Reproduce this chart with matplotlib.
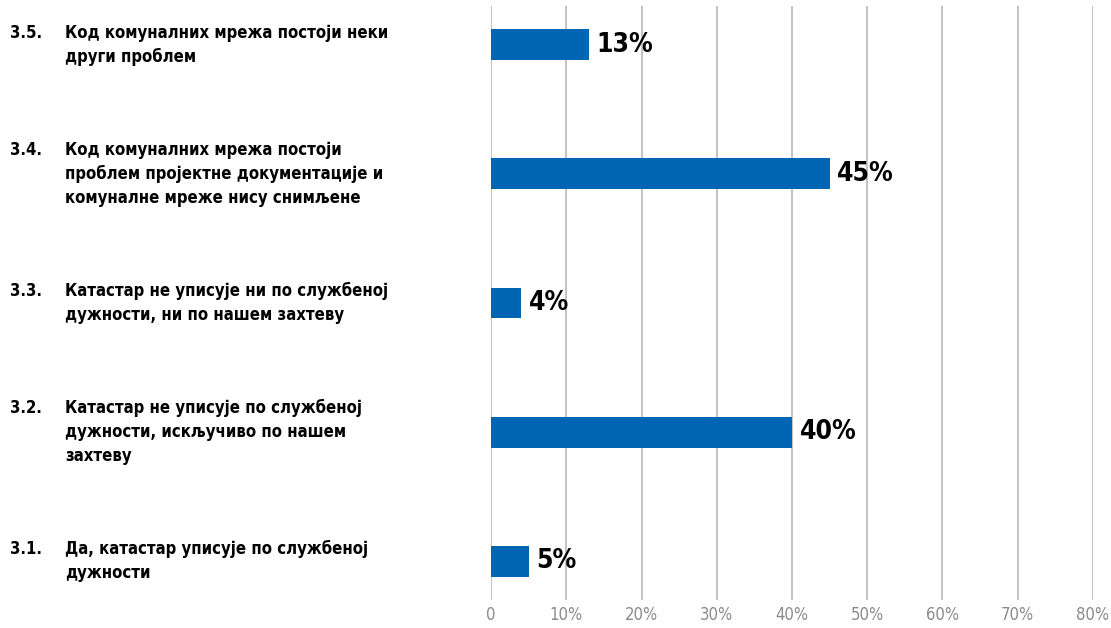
import matplotlib.pyplot as plt
import matplotlib.transforms as mtransforms
import numpy as np
from matplotlib.ticker import FuncFormatter

# data, bottom to top
codes = ['3.1.', '3.2.', '3.3.', '3.4.', '3.5.']
labels = [
    'Да, катастар уписује по службеној\nдужности',
    'Катастар не уписује по службеној\nдужности, искључиво по нашем\nзахтеву',
    'Катастар не уписује ни по службеној\nдужности, ни по нашем захтеву',
    'Код комуналних мрежа постоји\nпроблем пројектне документације и\nкомуналне мреже нису снимљене',
    'Код комуналних мрежа постоји неки\nдруги проблем',
]
values = [5, 40, 4, 45, 13]
xticks = [0, 10, 20, 30, 40, 50, 60, 70, 80]

bar_color = '#0066b3'
grid_color = '#c4c4c4'
font = ['DejaVu Sans']


def main():
    fig = plt.figure(figsize=(11.11, 6.28), dpi=100)
    ax = fig.add_axes([491/1111, 28/628, (1093-491)/1111, (600-6)/628])

    y = np.arange(len(values))
    ax.barh(y, values, height=0.24, color=bar_color, zorder=3)

    for yi, v in zip(y, values):
        ax.text(v + 1.0, yi, f'{v}%', ha='left', va='center', fontsize=19,
                fontweight='bold', family=font, stretch='condensed', color='black')

    # category labels on the left, centred on each bar
    blend = mtransforms.blended_transform_factory(fig.transFigure, ax.transData)
    for yi, code, lab in zip(y, codes, labels):
        ax.text(10/1111, yi, code + '\n' * lab.count('\n'), transform=blend, ha='left', va='center',
                fontsize=12, fontweight='bold', family=font, stretch='condensed', linespacing=1.42)
        ax.text(65/1111, yi, lab, transform=blend, ha='left', va='center',
                fontsize=12, fontweight='bold', family=font, stretch='condensed', linespacing=1.42)

    ax.set_xlim(0, 80)
    ax.set_ylim(-0.3, 4.3)
    ax.set_xticks(xticks)
    ax.xaxis.set_major_formatter(FuncFormatter(lambda v, p: '0' if v == 0 else f'{v:.0f}%'))
    ax.tick_params(axis='x', length=0, pad=4, labelsize=12, labelcolor='#8a8a8a')
    ax.set_yticks([])
    ax.grid(axis='x', color=grid_color, linewidth=1.5, zorder=0)
    for s in ax.spines.values():
        s.set_visible(False)
    for lbl in ax.get_xticklabels():
        lbl.set_family(font)
        lbl.set_stretch('condensed')

    plt.savefig('out.png')
    plt.close()


if __name__ == '__main__':
    main()
